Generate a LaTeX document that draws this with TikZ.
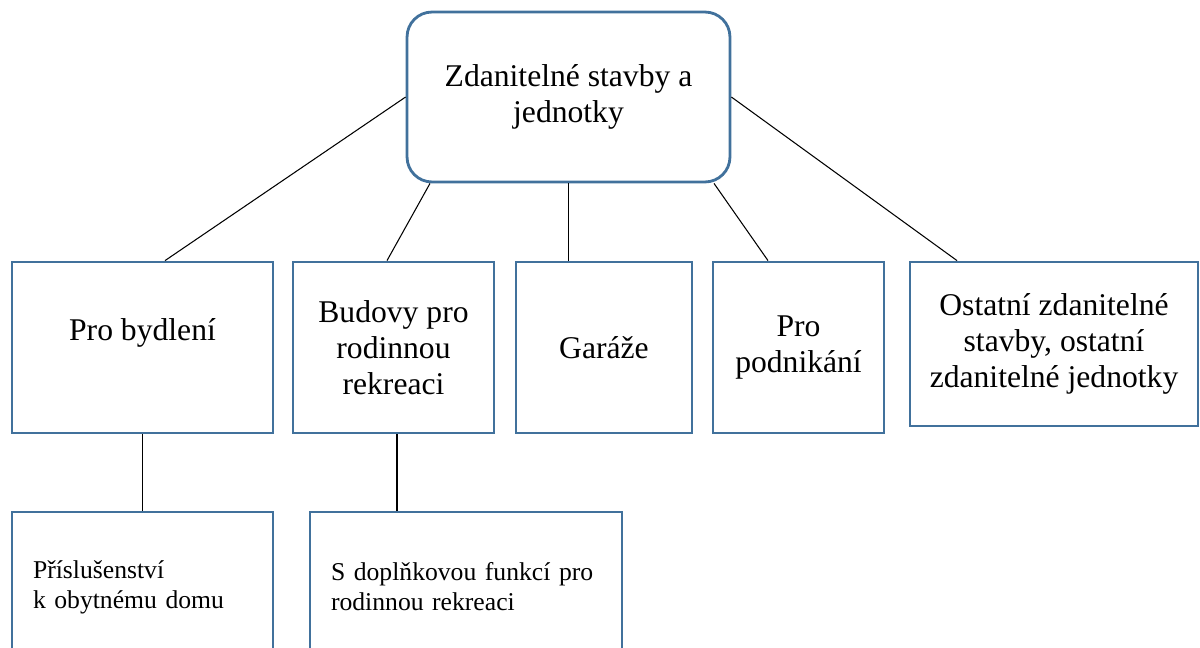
\documentclass[tikz,border=0pt]{standalone}
\usepackage{fontspec}
\setmainfont{Liberation Serif}
\usepackage{tikz}
\usetikzlibrary{positioning}
\definecolor{boxblue}{HTML}{41719C}

\begin{document}
\begin{tikzpicture}[x=0.02cm,y=-0.02cm,
    box/.style={draw=boxblue,line width=1.6pt,align=center,inner sep=2pt,minimum height=3.42cm,font=\fontsize{18}{20.5}\selectfont},
    subbox/.style={draw=boxblue,line width=1.6pt,align=left,inner xsep=0.42cm,minimum height=3cm,font=\fontsize{14.6}{17}\selectfont},
    link/.style={line width=0.6pt}]
      \useasboundingbox (0,0) rectangle (1200,648);
      \clip (0,0) rectangle (1200,648);
      \node[box,rounded corners=0.5cm,minimum width=6.46cm,minimum height=3.4cm](stavby) at (568.5,97){Zdanitelné stavby a\\jednotky};
      \node[box,minimum width=5.22cm](bydleni) at (142.5,347.5){Pro bydlení\\~};
      \node[box,minimum width=4.02cm](rekreace) at (393.5,347.5){Budovy pro\\rodinnou\\rekreaci};
      \node[box,minimum width=3.52cm](garaze) at (604,347.5){Garáže};
      \node[box,minimum width=3.42cm](podnikani) at (798.5,347.5){Pro\\podnikání};
      \node[box,minimum width=5.76cm,minimum height=3.28cm](ostatni) at (1054,344){Ostatní zdanitelné\\stavby, ostatní\\zdanitelné jednotky};
      \node[subbox,text width=4.38cm](prislusenstvi) at (142.5,587){Příslušenství\\k obytnému domu};
      \node[subbox,text width=5.4cm](doplnkova) at (466,587){S doplňkovou funkcí pro\\rodinnou rekreaci};
      \draw[link] (stavby.west) -- ([xshift=0.45cm]bydleni.north);
      \draw[link] ([xshift=-2.77cm]stavby.south) -- ([xshift=-0.13cm]rekreace.north);
      \draw[link] (stavby.south) -- (stavby.south |- garaze.north);
      \draw[link] ([xshift=2.91cm]stavby.south) -- ([xshift=-0.61cm]podnikani.north);
      \draw[link] (stavby.east) -- ([xshift=-1.94cm]ostatni.north);
      \draw[link] (bydleni.south) -- (prislusenstvi.north);
      \draw[link] ([xshift=0.07cm]rekreace.south) -- ([xshift=0.07cm]rekreace.south |- doplnkova.north);
\end{tikzpicture}
\end{document}
